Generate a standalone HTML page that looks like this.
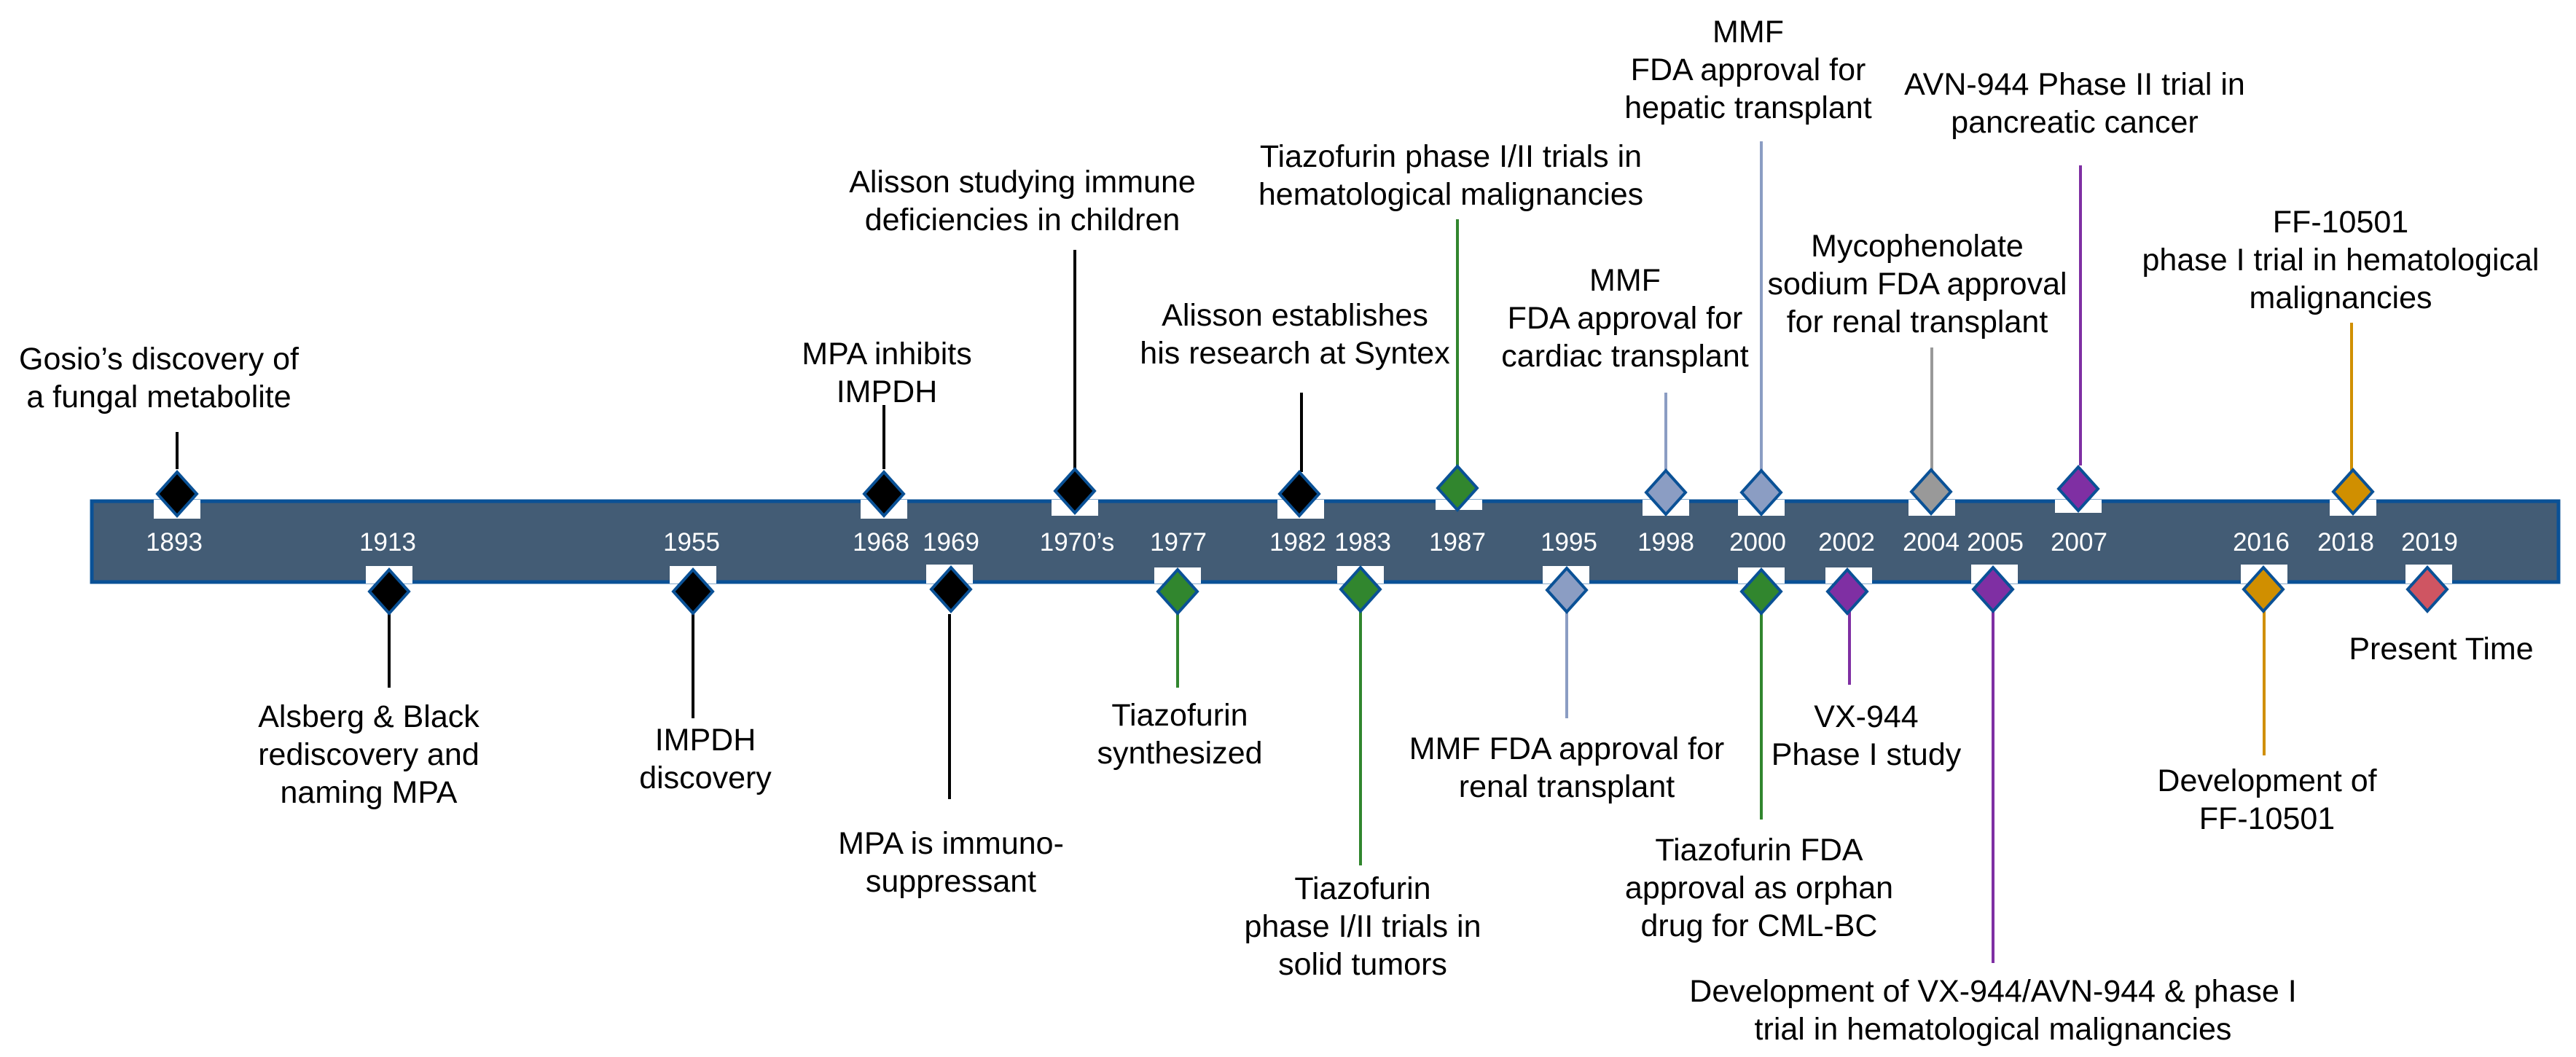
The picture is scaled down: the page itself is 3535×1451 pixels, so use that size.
<!DOCTYPE html>
<html><head><meta charset="utf-8"><style>
html,body{margin:0;padding:0;background:#fff;}
svg{display:block;}
text{font-family:"Liberation Sans",Arial,sans-serif;}
.t{font-size:43px;fill:#000;text-anchor:middle;}
.y{font-size:35px;fill:#fff;text-anchor:middle;}
</style></head><body>
<svg width="3535" height="1451" viewBox="0 0 3535 1451" xmlns="http://www.w3.org/2000/svg">
<rect x="126" y="688" width="3385" height="111" fill="#435C75" stroke="#0A5196" stroke-width="5"/>

<g stroke-width="4">
<line x1="243" y1="593" x2="243" y2="644" stroke="#000"/>
<line x1="534" y1="843" x2="534" y2="944" stroke="#000"/>
<line x1="951" y1="843" x2="951" y2="986" stroke="#000"/>
<line x1="1213" y1="556" x2="1213" y2="644" stroke="#000"/>
<line x1="1303" y1="843" x2="1303" y2="1097" stroke="#000"/>
<line x1="1475" y1="343" x2="1475" y2="648" stroke="#000"/>
<line x1="1616" y1="838" x2="1616" y2="944" stroke="#31862E"/>
<line x1="1786" y1="539" x2="1786" y2="648" stroke="#000"/>
<line x1="1867" y1="838" x2="1867" y2="1188" stroke="#31862E"/>
<line x1="2000" y1="301" x2="2000" y2="648" stroke="#31862E"/>
<line x1="2150" y1="838" x2="2150" y2="986" stroke="#8B9DC3"/>
<line x1="2286" y1="539" x2="2286" y2="648" stroke="#8B9DC3"/>
<line x1="2417" y1="194" x2="2417" y2="648" stroke="#8B9DC3"/>
<line x1="2417" y1="838" x2="2417" y2="1125" stroke="#31862E"/>
<line x1="2538" y1="838" x2="2538" y2="940" stroke="#7F2FA3"/>
<line x1="2651" y1="477" x2="2651" y2="648" stroke="#999999"/>
<line x1="2735" y1="838" x2="2735" y2="1322" stroke="#7F2FA3"/>
<line x1="2855" y1="227" x2="2855" y2="639" stroke="#7F2FA3"/>
<line x1="3107" y1="838" x2="3107" y2="1037" stroke="#D08F00"/>
<line x1="3227" y1="443" x2="3227" y2="648" stroke="#D08F00"/>
</g>

<g fill="#fff">
<rect x="211" y="686" width="64" height="26"/>
<rect x="1181" y="686" width="64" height="26"/>
<rect x="1443" y="686" width="64" height="22"/>
<rect x="1753" y="686" width="64" height="26"/>
<rect x="1970" y="686" width="64" height="14"/>
<rect x="2254" y="686" width="64" height="22"/>
<rect x="2385" y="686" width="64" height="22"/>
<rect x="2619" y="686" width="64" height="22"/>
<rect x="2820" y="686" width="64" height="18"/>
<rect x="3197" y="686" width="64" height="22"/>
<rect x="502" y="777" width="64" height="24"/>
<rect x="919" y="777" width="64" height="24"/>
<rect x="1271" y="775" width="64" height="26"/>
<rect x="1584" y="779" width="64" height="22"/>
<rect x="1835" y="777" width="64" height="24"/>
<rect x="2117" y="777" width="64" height="24"/>
<rect x="2385" y="779" width="64" height="22"/>
<rect x="2505" y="779" width="64" height="22"/>
<rect x="2705" y="775" width="64" height="26"/>
<rect x="3075" y="775" width="64" height="26"/>
<rect x="3301" y="775" width="64" height="26"/>
</g>

<g stroke="#0A5196" stroke-width="4" stroke-linejoin="miter">
<polygon points="243,648 270,678 243,708 216,678" fill="#000"/>
<polygon points="1213,648 1240,678 1213,708 1186,678" fill="#000"/>
<polygon points="1475,644 1502,674 1475,704 1448,674" fill="#000"/>
<polygon points="1783,648 1810,678 1783,708 1756,678" fill="#000"/>
<polygon points="2000,640 2027,670 2000,700 1973,670" fill="#31862E"/>
<polygon points="2286,646 2313,676 2286,706 2259,676" fill="#8B9DC3"/>
<polygon points="2417,646 2444,676 2417,706 2390,676" fill="#8B9DC3"/>
<polygon points="2650,645 2677,675 2650,705 2623,675" fill="#999999"/>
<polygon points="2852,641 2879,671 2852,701 2825,671" fill="#7F2FA3"/>
<polygon points="3229,645 3256,675 3229,705 3202,675" fill="#D08F00"/>
<polygon points="534,782 561,812 534,842 507,812" fill="#000"/>
<polygon points="951,782 978,812 951,842 924,812" fill="#000"/>
<polygon points="1305,779 1332,809 1305,839 1278,809" fill="#000"/>
<polygon points="1616,782 1643,812 1616,842 1589,812" fill="#31862E"/>
<polygon points="1867,779 1894,809 1867,839 1840,809" fill="#31862E"/>
<polygon points="2150,780 2177,810 2150,840 2123,810" fill="#8B9DC3"/>
<polygon points="2417,782 2444,812 2417,842 2390,812" fill="#31862E"/>
<polygon points="2535,782 2562,812 2535,842 2508,812" fill="#7F2FA3"/>
<polygon points="2735,779 2762,809 2735,839 2708,809" fill="#7F2FA3"/>
<polygon points="3106,779 3133,809 3106,839 3079,809" fill="#D08F00"/>
<polygon points="3331,779 3358,809 3331,839 3304,809" fill="#CF5562"/>
</g>

<text class="y" x="239" y="756">1893</text>
<text class="y" x="532" y="756">1913</text>
<text class="y" x="949" y="756">1955</text>
<text class="y" x="1209" y="756">1968</text>
<text class="y" x="1305" y="756">1969</text>
<text class="y" x="1478" y="756">1970’s</text>
<text class="y" x="1617" y="756">1977</text>
<text class="y" x="1781" y="756">1982</text>
<text class="y" x="1870" y="756">1983</text>
<text class="y" x="2000" y="756">1987</text>
<text class="y" x="2153" y="756">1995</text>
<text class="y" x="2286" y="756">1998</text>
<text class="y" x="2412" y="756">2000</text>
<text class="y" x="2534" y="756">2002</text>
<text class="y" x="2650" y="756">2004</text>
<text class="y" x="2738" y="756">2005</text>
<text class="y" x="2853" y="756">2007</text>
<text class="y" x="3103" y="756">2016</text>
<text class="y" x="3219" y="756">2018</text>
<text class="y" x="3334" y="756">2019</text>

<text class="t" x="218" y="507">Gosio’s discovery of</text>
<text class="t" x="218" y="559">a fungal metabolite</text>

<text class="t" x="506" y="998">Alsberg &amp; Black</text>
<text class="t" x="506" y="1050">rediscovery and</text>
<text class="t" x="506" y="1102">naming MPA</text>

<text class="t" x="968" y="1030">IMPDH</text>
<text class="t" x="968" y="1082">discovery</text>

<text class="t" x="1217" y="500">MPA inhibits</text>
<text class="t" x="1217" y="552">IMPDH</text>

<text class="t" x="1305" y="1172">MPA is immuno-</text>
<text class="t" x="1305" y="1224">suppressant</text>

<text class="t" x="1403" y="264">Alisson studying immune</text>
<text class="t" x="1403" y="316">deficiencies in children</text>

<text class="t" x="1619" y="996">Tiazofurin</text>
<text class="t" x="1619" y="1048">synthesized</text>

<text class="t" x="1777" y="447">Alisson establishes</text>
<text class="t" x="1777" y="499">his research at Syntex</text>

<text class="t" x="1870" y="1234">Tiazofurin</text>
<text class="t" x="1870" y="1286">phase I/II trials in</text>
<text class="t" x="1870" y="1338">solid tumors</text>

<text class="t" x="1991" y="229">Tiazofurin phase I/II trials in</text>
<text class="t" x="1991" y="281">hematological malignancies</text>

<text class="t" x="2230" y="399">MMF</text>
<text class="t" x="2230" y="451">FDA approval for</text>
<text class="t" x="2230" y="503">cardiac transplant</text>

<text class="t" x="2150" y="1042">MMF FDA approval for</text>
<text class="t" x="2150" y="1094">renal transplant</text>

<text class="t" x="2399" y="58">MMF</text>
<text class="t" x="2399" y="110">FDA approval for</text>
<text class="t" x="2399" y="162">hepatic transplant</text>

<text class="t" x="2414" y="1181">Tiazofurin FDA</text>
<text class="t" x="2414" y="1233">approval as orphan</text>
<text class="t" x="2414" y="1285">drug for CML-BC</text>

<text class="t" x="2561" y="998">VX-944</text>
<text class="t" x="2561" y="1050">Phase I study</text>

<text class="t" x="2631" y="352">Mycophenolate</text>
<text class="t" x="2631" y="404">sodium FDA approval</text>
<text class="t" x="2631" y="456">for renal transplant</text>

<text class="t" x="2847" y="130">AVN-944 Phase II trial in</text>
<text class="t" x="2847" y="182">pancreatic cancer</text>

<text class="t" x="3212" y="319">FF-10501</text>
<text class="t" x="3212" y="371">phase I trial in hematological</text>
<text class="t" x="3212" y="423">malignancies</text>

<text class="t" x="2735" y="1375">Development of VX-944/AVN-944 &amp; phase I</text>
<text class="t" x="2735" y="1427">trial in hematological malignancies</text>

<text class="t" x="3111" y="1086">Development of</text>
<text class="t" x="3111" y="1138">FF-10501</text>

<text class="t" x="3350" y="905">Present Time</text>
</svg>
</body></html>
